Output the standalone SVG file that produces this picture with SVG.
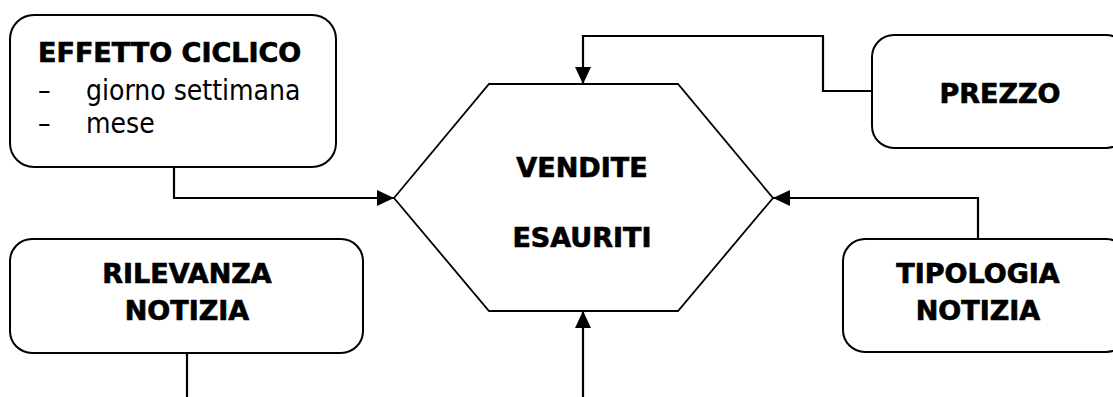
<svg xmlns="http://www.w3.org/2000/svg" width="1113" height="397" viewBox="0 0 1113 397">
  <style>
    .box { fill: #fff; stroke: #000; stroke-width: 2; }
    .hex { fill: #fff; stroke: #000; stroke-width: 1.8; }
    .wire { fill: none; stroke: #000; stroke-width: 2.2; }
    .title { font-family: "DejaVu Sans", Verdana, sans-serif; font-weight: bold; font-size: 27px; fill: #000; stroke: #000; stroke-width: 0.7; }
    .item { font-family: "DejaVu Sans Condensed", "DejaVu Sans", sans-serif; font-size: 28px; fill: #000; }
    .mid { text-anchor: middle; }
  </style>
  <defs>
    <marker id="arrow" markerUnits="userSpaceOnUse" markerWidth="17" markerHeight="16" refX="17" refY="8" orient="auto">
      <path d="M0,0 L17,8 L0,16 Z" fill="#000"/>
    </marker>
  </defs>

  <!-- connectors -->
  <g id="connectors">
    <path class="wire" d="M174 167 V198 H394" marker-end="url(#arrow)"/>
    <path class="wire" d="M872 91 H823 V36 H583 V84" marker-end="url(#arrow)"/>
    <path class="wire" d="M978 239 V198 H773" marker-end="url(#arrow)"/>
    <path class="wire" d="M187 353 V397"/>
    <path class="wire" d="M583 397 V311" marker-end="url(#arrow)"/>
  </g>

  <!-- central hexagon -->
  <g id="vendite">
    <polygon class="hex" points="394,198 489,84 678,84 773,198 678,311 489,311"/>
    <text class="title mid" x="582" y="177">VENDITE</text>
    <text class="title mid" x="582" y="247">ESAURITI</text>
  </g>

  <g id="effetto-ciclico">
    <rect class="box" x="10" y="15" width="326" height="152" rx="24"/>
    <text class="title" x="38" y="62">EFFETTO CICLICO</text>
    <text class="item" x="38" y="100">–</text>
    <text class="item" x="86" y="100">giorno settimana</text>
    <text class="item" x="38" y="133">–</text>
    <text class="item" x="86" y="133">mese</text>
  </g>

  <g id="prezzo">
    <rect class="box" x="872" y="35" width="256" height="113" rx="22"/>
    <text class="title mid" x="1000" y="103">PREZZO</text>
  </g>

  <g id="rilevanza-notizia">
    <rect class="box" x="10" y="239" width="353" height="114" rx="22"/>
    <text class="title mid" x="187" y="283">RILEVANZA</text>
    <text class="title mid" x="187" y="320">NOTIZIA</text>
  </g>

  <g id="tipologia-notizia">
    <rect class="box" x="843" y="239" width="285" height="113" rx="22"/>
    <text class="title mid" x="978" y="283">TIPOLOGIA</text>
    <text class="title mid" x="978" y="320">NOTIZIA</text>
  </g>
</svg>
